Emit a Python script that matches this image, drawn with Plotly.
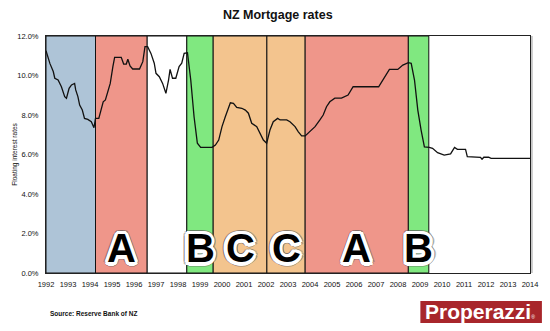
import math
import plotly.graph_objects as go

# ---- data ----
years = [1992.0, 1992.18, 1992.33, 1992.40, 1992.55, 1992.70, 1992.85, 1992.93, 1993.05, 1993.16,
         1993.30, 1993.35, 1993.45, 1993.53, 1993.65, 1993.75, 1993.90, 1994.06, 1994.18, 1994.25,
         1994.40, 1994.60, 1994.70, 1994.81, 1994.92, 1995.04, 1995.12, 1995.42, 1995.53, 1995.65,
         1995.72, 1995.82, 1995.94, 1996.25, 1996.40, 1996.50, 1996.62, 1996.77, 1996.92, 1997.00,
         1997.15, 1997.30, 1997.45, 1997.57, 1997.64, 1997.75, 1997.90, 1998.05, 1998.17, 1998.28,
         1998.43, 1998.58, 1998.73, 1998.88, 1999.03, 1999.55, 1999.70, 1999.85, 2000.00, 2000.15,
         2000.27, 2000.38, 2000.52, 2000.67, 2000.90, 2001.06, 2001.20, 2001.35, 2001.58, 2001.73,
         2001.88, 2002.03, 2002.18, 2002.33, 2002.53, 2002.64, 2002.94, 2003.09, 2003.32, 2003.47,
         2003.62, 2003.78, 2004.00, 2004.23, 2004.45, 2004.60, 2004.75, 2004.90, 2005.13, 2005.43,
         2005.73, 2005.96, 2007.12, 2007.31, 2007.61, 2007.99, 2008.22, 2008.47, 2008.60, 2008.75,
         2008.90, 2009.05, 2009.20, 2009.42, 2009.57, 2009.80, 2010.10, 2010.39, 2010.57, 2010.70,
         2011.07, 2011.15, 2011.75, 2011.82, 2011.90, 2012.12, 2012.23, 2014.0]
rates = [11.25, 10.60, 10.20, 9.86, 9.77, 9.43, 8.93, 8.85, 9.35, 9.52,
         9.60, 9.27, 8.93, 8.50, 8.25, 7.83, 7.78, 7.66, 7.36, 7.83,
         7.83, 8.67, 8.76, 9.18, 9.60, 10.45, 10.92, 10.92, 10.58, 10.58,
         10.82, 10.48, 10.33, 10.33, 10.70, 11.46, 11.46, 11.12, 10.62, 10.11,
         9.94, 9.60, 9.10, 9.77, 10.31, 9.86, 9.86, 10.45, 10.62, 11.12,
         11.15, 9.77, 7.91, 6.57, 6.36, 6.36, 6.48, 6.73, 7.41, 7.91,
         8.25, 8.62, 8.59, 8.39, 8.34, 8.25, 8.09, 7.58, 7.41, 7.07,
         6.73, 6.57, 7.24, 7.66, 7.83, 7.75, 7.75, 7.66, 7.41, 7.15,
         6.94, 6.94, 7.15, 7.41, 7.75, 8.00, 8.42, 8.67, 8.85, 8.85,
         9.01, 9.43, 9.43, 9.77, 10.31, 10.31, 10.53, 10.65, 10.62, 9.77,
         8.25, 7.24, 6.39, 6.36, 6.31, 6.09, 5.97, 6.03, 6.36, 6.26,
         6.26, 5.89, 5.86, 5.76, 5.86, 5.86, 5.80, 5.80]

band_starts = [1992.0, 1994.25, 1996.6, 1998.4, 1999.6, 2002.04, 2003.78, 2008.47]
band_ends = [1994.25, 1996.6, 1998.4, 1999.6, 2002.04, 2003.78, 2008.47, 2009.4]
band_labels = ["", "A", "", "B", "C", "C", "A", "B"]
band_colors = ["#aec4d7", "#ef968a", "#ffffff", "#80e880", "#f3c48e", "#f3c48e", "#ef968a", "#80e880"]

tick_years = list(range(1992, 2015))
tick_labels = [str(y) for y in tick_years]
y_ticks = [0, 2, 4, 6, 8, 10, 12]
y_tick_labels = ["%.1f%%" % v for v in y_ticks]

# ---- figure ----
fig = go.Figure()
fig.add_trace(go.Scatter(x=years, y=rates, mode="lines",
                         line=dict(color="#111111", width=1.3), hoverinfo="skip"))

shapes = []
annotations = []
letter_font = "Liberation Sans, Arial"


def letter_ann(xc, text, color, dx=0.0, dy=0.0):
    return dict(x=xc, y=1.25, xref="x", yref="y", text="<b>%s</b>" % text,
                showarrow=False, xanchor="center", yanchor="middle",
                xshift=dx, yshift=dy,
                font=dict(family=letter_font, size=40, color=color))


for s, e, lab, col in zip(band_starts, band_ends, band_labels, band_colors):
    shapes.append(dict(type="rect", xref="x", yref="y", x0=s, x1=e, y0=0, y1=12,
                       fillcolor=col, line=dict(color="#111111", width=1), layer="below"))

for s, e, lab in zip(band_starts, band_ends, band_labels):
    if not lab:
        continue
    xc = (s + e) / 2
    # soft grey halo
    for k in range(16):
        a = 2 * math.pi * k / 16
        annotations.append(letter_ann(xc, lab, "rgba(90,90,90,0.35)", 4.5 * math.cos(a), 4.5 * math.sin(a)))
    # white outline
    for r in (1.5, 3.2):
        for k in range(16):
            a = 2 * math.pi * k / 16
            annotations.append(letter_ann(xc, lab, "white", r * math.cos(a), r * math.sin(a)))
    annotations.append(letter_ann(xc, lab, "black"))

# logo box
shapes.append(dict(type="rect", xref="paper", yref="paper", x0=0.7735, x1=1.0246,
                   y0=-0.211, y1=-0.118, fillcolor="#a8262b", line=dict(width=0), layer="above"))
annotations.append(dict(x=0.897, y=-0.163, xref="paper", yref="paper",
                        text="<b>Properazzi</b><span style='font-size:5px'>®</span>",
                        showarrow=False, xanchor="center", yanchor="middle",
                        font=dict(family="Liberation Sans, Arial", size=21, color="white")))
# source
annotations.append(dict(x=0.005, y=-0.17, xref="paper", yref="paper",
                        text="<b>Source: Reserve Bank of NZ</b>", showarrow=False,
                        xanchor="left", yanchor="middle",
                        font=dict(family="Liberation Sans, Arial", size=6.5, color="#111111")))
# y axis title
annotations.append(dict(x=-0.0657, y=0.5, xref="paper", yref="paper",
                        text="Floating interest rates", textangle=-90, showarrow=False,
                        xanchor="center", yanchor="middle",
                        font=dict(family="Liberation Sans, Arial", size=6.5, color="#111111")))
# right shadow of border
shapes.append(dict(type="line", xref="paper", yref="paper", x0=1.004, x1=1.004, y0=0, y1=1,
                   line=dict(color="#bbbbbb", width=1.5)))

fig.update_layout(
    width=550, height=331,
    margin=dict(l=46, r=17, t=36, b=58),
    paper_bgcolor="white", plot_bgcolor="white",
    showlegend=False,
    title=dict(text="<b>NZ Mortgage rates</b>", x=0.505, xanchor="center", y=0.955, yanchor="middle",
               font=dict(family="Liberation Sans, Arial", size=12.5, color="#111111")),
    shapes=shapes, annotations=annotations,
    xaxis=dict(range=[1992, 2014], tickvals=tick_years, ticktext=tick_labels, showgrid=False,
               zeroline=False, showline=True, linecolor="#222222", linewidth=1, mirror=True,
               ticks="", ticklabelstandoff=4,
               tickfont=dict(family="Liberation Sans, Arial", size=7.5, color="#111111")),
    yaxis=dict(range=[0, 12], tickvals=y_ticks, ticktext=y_tick_labels, showgrid=False,
               zeroline=False, showline=True, linecolor="#222222", linewidth=1, mirror=True,
               ticks="", ticklabelstandoff=5,
               tickfont=dict(family="Liberation Sans, Arial", size=7.5, color="#111111")),
)

fig.write_html("out.html")
